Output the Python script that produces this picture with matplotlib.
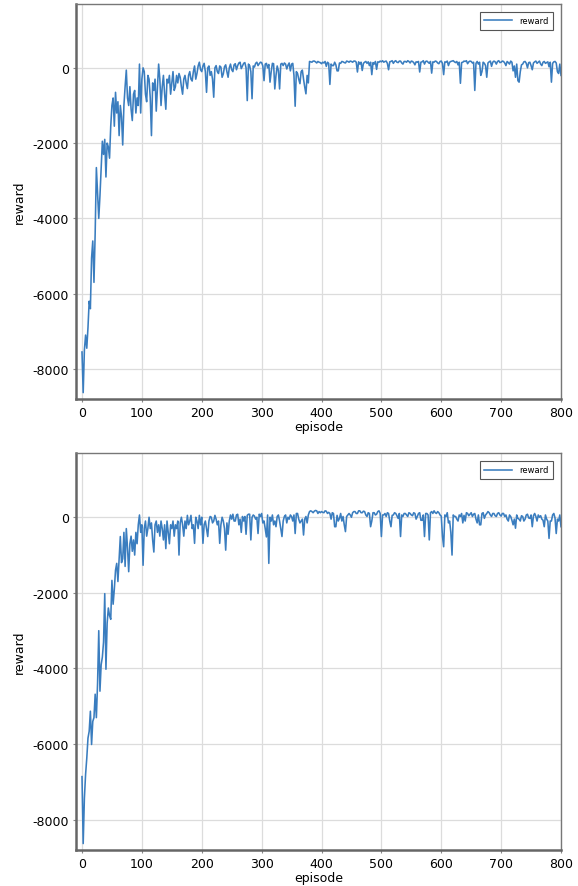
import numpy as np
import matplotlib
matplotlib.use("Agg")
import matplotlib.pyplot as plt

plt.rcParams["axes.unicode_minus"] = False

# rewards, one value every 2 episodes
# (each row below covers 20 episodes)
reward_run1 = [
    -7550, -8630, -7500, -7100, -7450, -6900, -6200, -6400, -5050, -4600,
    -5700, -4400, -2650, -3300, -4000, -3400, -2700, -1950, -2300, -1900,
    -2900, -2000, -2100, -2400, -1550, -1000, -800, -1550, -650, -1200,
    -900, -1800, -1000, -1300, -2050, -1000, -500, -60, -800, -1000,
    -500, -1100, -1400, -700, -600, -1200, -800, -1000, 100, -1200,
    -300, 0, -100, -700, -900, -200, -300, -800, -1800, -400,
    -600, -300, -1150, -500, 100, -300, -1000, -500, -200, -700,
    -1100, -300, -400, -200, -700, -400, -100, -600, -500, -200,
    -400, -150, -250, -500, -700, -300, -200, -400, -550, -200,
    -100, -300, -350, -100, 50, -300, -150, 50, 150, -50,
    -100, 50, 120, -100, -650, 0, 50, -200, -100, -300,
    -780, 0, 60, -100, -150, 50, 20, -250, -160, 30,
    80, -100, -250, 0, 100, -50, -100, 80, 110, -50,
    60, 130, 150, -20, 50, 120, 140, 0, -870, 100,
    60, -100, -820, 50, 20, 120, 150, 60, 110, 150,
    140, 50, -340, 100, 120, 0, 90, -380, -100, 120,
    110, -560, -200, 50, -70, -560, 100, 120, 60, 130,
    100, -30, 70, 130, -80, 100, 120, -200, -1020, -100,
    -150, -300, -420, -100, -60, -300, -510, -690, -200, -400,
    170, 160, 150, 180, 180, 160, 130, 170, 150, 140,
    110, 150, 130, 170, 40, 150, 120, -440, 100, 60,
    60, 150, 80, -80, -80, 130, 120, 170, 160, 140,
    130, 180, 170, 150, 180, 170, 150, 180, 180, 150,
    -110, 160, 100, 150, -70, 120, 150, 170, 120, 160,
    60, 150, -180, 140, 100, 170, -40, 160, 150, 180,
    160, 190, 150, 170, 180, 120, -50, 160, 170, 190,
    120, 170, 190, 150, 140, 180, 180, 130, 100, 170,
    170, 150, 190, 170, 130, 180, 170, 140, 80, 160,
    150, 170, -110, 150, 160, 190, 100, 170, 180, 150,
    120, 170, -140, 160, 150, 180, 170, 130, 110, 170,
    180, 120, -180, 160, 150, 180, 60, 150, 170, 180,
    190, 160, 140, 170, 80, 150, -410, 140, 150, 180,
    170, 190, 110, 160, 180, 170, 130, 150, -600, 120,
    170, 100, 150, -200, -100, 150, 120, 60, -250, 130,
    160, 180, 40, 150, 180, 160, 100, 170, 190, 140,
    150, 180, 170, 130, 60, 170, 140, 100, 180, 150,
    -80, 50, -250, 100, -340, -380, -100, 80, 100, 160,
    170, 120, 0, 140, 150, 60, -50, 130, 160, 180,
    120, 150, 180, 100, 60, 150, 170, 120, 140, 160,
    30, 150, -380, 120, 160, 170, 130, -100, -150, 100,
    -200,
]

reward_run2 = [
    -6860, -8630, -7430, -6800, -6370, -5840, -5660, -5130, -6010, -5400,
    -5300, -4680, -5300, -4400, -3000, -4600, -3900, -3700, -3300, -2020,
    -4020, -2800, -2400, -2600, -2700, -1670, -2300, -1900, -1400, -1220,
    -1700, -1100, -510, -1200, -1100, -400, -1300, -300, -800, -1440,
    -700, -500, -900, -600, -1000, -400, -700, -200, 60, -400,
    -200, -1270, -300, -100, -500, -300, 0, -300, -150, -600,
    -920, -200, -100, -400, -200, -500, -100, -300, -600, -200,
    -830, -100, -400, -700, -200, -300, -100, -500, -200, -300,
    -100, -1000, -150, 0, -200, -500, -100, -300, 50, -200,
    -100, 50, -300, -200, -690, 0, -100, -300, 50, -200,
    0, -690, -200, -100, -300, -510, -100, 20, 0, -150,
    -100, 50, -50, -200, -100, -690, -200, 0, -100, -300,
    -870, -150, -450, -100, 60, -50, 80, -100, -100, 60,
    80, -200, -50, -400, 20, -100, 20, -450, 50, 80,
    80, -600, 0, 60, 30, -50, 0, -430, 80, 20,
    100, -150, -100, -300, -520, 60, -1220, 0, -100, 60,
    -200, -100, -250, 20, 60, -100, -300, -510, -100, 20,
    60, -150, 0, -50, 60, 20, -100, 60, -430, 100,
    100, -50, -150, -100, -50, -470, -50, 20, -150, 60,
    150, 170, 150, 120, 160, 180, 170, 100, 150, 120,
    150, 130, 120, 170, 160, 100, 130, 100, -50, 120,
    100, -250, -250, 50, -100, -30, 100, -100, 20, -200,
    -380, 20, 60, 100, 60, 0, 120, 150, 150, 100,
    100, 170, 170, 120, 120, 160, 150, 60, 20, 120,
    100, -250, -100, 120, 120, 60, 80, 150, 170, 100,
    -510, 60, 60, 100, 20, 120, 100, -100, -250, 50,
    60, 120, 100, 40, -30, 100, -510, 60, 20, 100,
    100, 60, 20, 120, 100, 60, 40, 120, 100, -50,
    20, 100, 120, -80, -80, 60, -510, 100, 100, 60,
    -600, 120, 150, 100, 170, 120, 100, 150, 120, 60,
    30, -500, -780, 60, 20, 120, -150, -100, -400, -1000,
    60, 20, 20, -50, -100, 60, 20, 100, -150, 50,
    -100, 120, 100, 40, 80, 120, 20, 80, 100, -50,
    -150, 60, -200, -200, 100, 120, -30, 60, 100, 150,
    120, 60, 20, 100, 100, 40, 20, 100, 120, 60,
    30, 100, 100, 20, 60, -50, -100, 60, 20, -80,
    -200, -50, -290, 60, -30, -50, -100, 40, 20, -100,
    -50, 60, 80, -20, -30, 60, -250, 40, 100, 20,
    -100, 60, 0, 40, -50, -80, -250, 60, -50, -100,
    -560, -100, -100, 60, 100, -20, -430, -50, -100, 60,
    -250,
]

episodes1 = np.arange(len(reward_run1)) * 2
episodes2 = np.arange(len(reward_run2)) * 2

LINE_COLOR = "#3a7dbf"

fig = plt.figure(figsize=(5.78, 8.87), dpi=100)
ax_top = fig.add_axes([0.1315, 0.549, 0.8391, 0.4455])
ax_bot = fig.add_axes([0.1315, 0.0406, 0.8391, 0.4476])

for ax, ep, rewards in [(ax_top, episodes1, reward_run1), (ax_bot, episodes2, reward_run2)]:
    ax.plot(ep, rewards, color=LINE_COLOR, linewidth=1.15, label="reward")
    ax.set_xlim(-10, 800)
    ax.set_ylim(-8800, 1700)
    ax.set_xticks([0, 100, 200, 300, 400, 500, 600, 700, 800])
    ax.set_yticks([-8000, -6000, -4000, -2000, 0])
    ax.grid(True, color="#dcdcdc", linewidth=0.9)
    ax.set_axisbelow(True)
    ax.tick_params(labelsize=9, length=2, width=0.8, color="#888888", pad=3)
    ax.set_xlabel("episode", fontsize=9, labelpad=1)
    ax.set_ylabel("reward", fontsize=9, labelpad=5)
    for side in ["left", "bottom"]:
        ax.spines[side].set_color("#666666")
        ax.spines[side].set_linewidth(1.8)
    for side in ["top", "right"]:
        ax.spines[side].set_color("#777777")
        ax.spines[side].set_linewidth(1.0)
    leg = ax.legend(loc="upper right", fontsize=6, fancybox=False,
                    handlelength=3.4, borderpad=0.5, borderaxespad=1.0,
                    framealpha=1)
    leg.get_frame().set_edgecolor("#555555")
    leg.get_frame().set_linewidth(0.8)

fig.savefig("out.png", dpi=100)
